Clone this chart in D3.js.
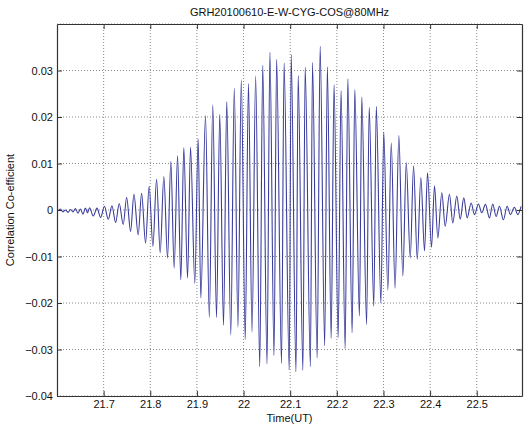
<!DOCTYPE html>
<html>
<head>
<meta charset="utf-8">
<script src="https://cdn.jsdelivr.net/npm/d3@7"></script>
<style>
    body { margin: 0; background: #fff; }
    text { font-family: Arial, "Liberation Sans", sans-serif; }
</style>
</head>
<body>
<div class="canvas"></div>
<script>
// fringe: alternating extrema, hours UT vs correlation
const timeUT = [21.6021, 21.6075, 21.6128, 21.6182, 21.6236, 21.6289, 21.6343, 21.6396, 21.6450, 21.6503,
    21.6557, 21.6610, 21.6653, 21.6700, 21.6777, 21.6857, 21.6936, 21.7017, 21.7099, 21.7178,
    21.7257, 21.7334, 21.7420, 21.7493, 21.7578, 21.7649, 21.7741, 21.7814, 21.7899, 21.7976,
    21.8056, 21.8135, 21.8212, 21.8291, 21.8370, 21.8441, 21.8512, 21.8585, 21.8655, 21.8719,
    21.8799, 21.8863, 21.8955, 21.9026, 21.9084, 21.9184, 21.9266, 21.9340, 21.9420, 21.9490,
    21.9570, 21.9640, 21.9726, 21.9801, 21.9880, 21.9951, 22.0036, 22.0105, 22.0182, 22.0259,
    22.0347, 22.0411, 22.0503, 22.0565, 22.0653, 22.0709, 22.0814, 22.0869, 22.0979, 22.1021,
    22.1124, 22.1171, 22.1272, 22.1321, 22.1433, 22.1478, 22.1578, 22.1642, 22.1739, 22.1797,
    22.1878, 22.1940, 22.2028, 22.2090, 22.2178, 22.2236, 22.2328, 22.2385, 22.2484, 22.2535,
    22.2638, 22.2694, 22.2792, 22.2846, 22.2944, 22.3006, 22.3094, 22.3167, 22.3248, 22.3330,
    22.3415, 22.3488, 22.3574, 22.3645, 22.3724, 22.3801, 22.3880, 22.3944, 22.4030, 22.4094,
    22.4165, 22.4251, 22.4323, 22.4415, 22.4486, 22.4572, 22.4645, 22.4722, 22.4794, 22.4880,
    22.4951, 22.5036, 22.5107, 22.5186, 22.5272, 22.5343, 22.5415, 22.5486, 22.5572, 22.5651,
    22.5722, 22.5807, 22.5878, 22.5951];

const corr = [-0.0002, 0.0002, -0.0004, 0.0000, -0.0005, 0.0001, -0.0004, 0.0003, -0.0007, 0.0002,
    -0.0009, 0.0004, -0.0006, 0.0005, -0.0013, 0.0004, -0.0016, 0.0008, -0.0020, 0.0009,
    -0.0027, 0.0014, -0.0031, 0.0027, -0.0046, 0.0034, -0.0053, 0.0036, -0.0071, 0.0051,
    -0.0078, 0.0066, -0.0092, 0.0072, -0.0103, 0.0104, -0.0125, 0.0117, -0.0150, 0.0134,
    -0.0146, 0.0135, -0.0158, 0.0153, -0.0189, 0.0203, -0.0231, 0.0226, -0.0231, 0.0206,
    -0.0248, 0.0233, -0.0269, 0.0262, -0.0252, 0.0280, -0.0278, 0.0272, -0.0263, 0.0288,
    -0.0337, 0.0311, -0.0331, 0.0339, -0.0313, 0.0324, -0.0330, 0.0316, -0.0344, 0.0334,
    -0.0348, 0.0289, -0.0345, 0.0307, -0.0337, 0.0317, -0.0318, 0.0352, -0.0292, 0.0308,
    -0.0276, 0.0269, -0.0275, 0.0257, -0.0298, 0.0282, -0.0264, 0.0259, -0.0228, 0.0243,
    -0.0246, 0.0221, -0.0207, 0.0223, -0.0200, 0.0167, -0.0172, 0.0144, -0.0168, 0.0160,
    -0.0142, 0.0102, -0.0103, 0.0095, -0.0106, 0.0070, -0.0088, 0.0080, -0.0080, 0.0052,
    -0.0060, 0.0037, -0.0035, 0.0034, -0.0028, 0.0030, -0.0020, 0.0026, -0.0017, 0.0015,
    -0.0010, 0.0013, -0.0006, 0.0012, -0.0017, 0.0013, -0.0014, 0.0008, -0.0021, 0.0008,
    -0.0010, 0.0006, -0.0010, 0.0008];

const xTicks = [21.7, 21.8, 21.9, 22, 22.1, 22.2, 22.3, 22.4, 22.5];
const yTicks = [-0.04, -0.03, -0.02, -0.01, 0, 0.01, 0.02, 0.03];

const margin = {top: 24, right: 2, bottom: 30, left: 57};
const graphWidth = 524 - margin.left - margin.right;
const graphHeight = 426 - margin.top - margin.bottom;

const svg = d3.select('.canvas')
    .append('svg')
    .attr('width', 524)
    .attr('height', 426);

const graph = svg.append('g')
    .attr('transform', `translate(${margin.left}, ${margin.top})`);

const x = d3.scaleLinear().domain([21.6, 22.597]).range([0, graphWidth]);
const y = d3.scaleLinear().domain([-0.04, 0.04]).range([graphHeight, 0]);

// dotted grid
graph.append('g')
    .selectAll('line.gx')
    .data(xTicks)
    .enter().append('line')
    .attr('x1', d => x(d)).attr('x2', d => x(d))
    .attr('y1', 0).attr('y2', graphHeight)
    .attr('stroke', '#8a8a8a')
    .attr('stroke-width', 1)
    .attr('stroke-dasharray', '1,2');

graph.append('g')
    .selectAll('line.gy')
    .data(yTicks.concat([0.04]))
    .enter().append('line')
    .attr('x1', 0).attr('x2', graphWidth)
    .attr('y1', d => y(d)).attr('y2', d => y(d))
    .attr('stroke', '#8a8a8a')
    .attr('stroke-width', 1)
    .attr('stroke-dasharray', '1,2');

const data = d3.zip(timeUT, corr);

const line = d3.line()
    .x(d => x(d[0]))
    .y(d => y(d[1]))
    .curve(d3.curveMonotoneX);

graph.append('path')
    .datum(data)
    .attr('fill', 'none')
    .attr('stroke', '#3a3d9c')
    .attr('stroke-width', 1.1)
    .attr('d', line);

// matlab style box, ticks pointing in on all sides
const xAxis = d3.axisBottom(x).tickValues(xTicks).tickSizeInner(-5).tickSizeOuter(0).tickPadding(4)
    .tickFormat(d => d3.format('~g')(d));
const yAxis = d3.axisLeft(y).tickValues(yTicks).tickSizeInner(-5).tickSizeOuter(0).tickPadding(4)
    .tickFormat(d => d === 0 ? '0' : d3.format('.2f')(d));

const xAxisGroup = graph.append('g')
    .attr('transform', `translate(0, ${graphHeight})`)
    .call(xAxis);
const yAxisGroup = graph.append('g').call(yAxis);

graph.append('g').call(d3.axisTop(x).tickValues(xTicks).tickSizeInner(-5).tickSizeOuter(0).tickFormat(''));
graph.append('g').attr('transform', `translate(${graphWidth}, 0)`)
    .call(d3.axisRight(y).tickValues(yTicks).tickSizeInner(-5).tickSizeOuter(0).tickFormat(''));

graph.selectAll('.domain').attr('stroke', '#333').attr('stroke-width', 1.2);
graph.selectAll('.tick line').attr('stroke', '#333');
graph.selectAll('.tick text')
    .attr('font-size', 11)
    .attr('font-family', 'Arial, "Liberation Sans", sans-serif')
    .attr('fill', '#111');

svg.append('text')
    .attr('x', margin.left + graphWidth / 2)
    .attr('y', 16)
    .attr('text-anchor', 'middle')
    .attr('font-size', 11)
    .attr('fill', '#111')
    .text('GRH20100610-E-W-CYG-COS@80MHz');

svg.append('text')
    .attr('x', margin.left + graphWidth / 2)
    .attr('y', 422)
    .attr('text-anchor', 'middle')
    .attr('font-size', 11)
    .attr('fill', '#111')
    .text('Time(UT)');

svg.append('text')
    .attr('transform', `translate(14, ${margin.top + graphHeight / 2}) rotate(-90)`)
    .attr('text-anchor', 'middle')
    .attr('font-size', 11)
    .attr('fill', '#111')
    .text('Correlation Co-efficient');
</script>
</body>
</html>
